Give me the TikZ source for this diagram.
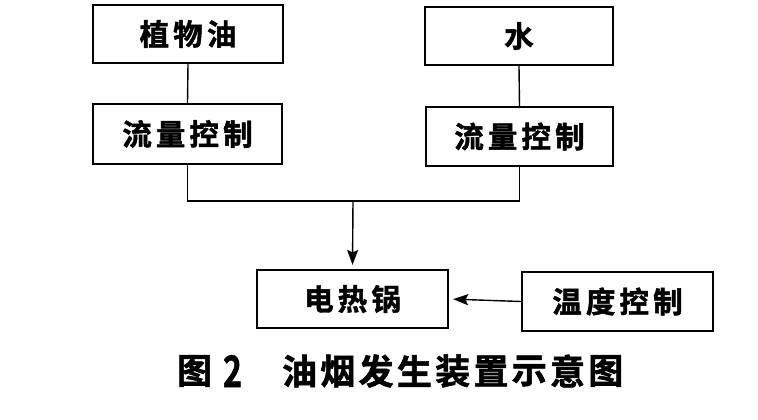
\documentclass[tikz,border=0pt]{standalone}
\usepackage{fontspec}
\usepackage{graphicx}
\usetikzlibrary{arrows.meta}
\newfontfamily\cjk{Noto Sans CJK SC}[BoldFont={Noto Sans CJK SC Bold},BoldFeatures={FakeBold=1.5}]
\newfontfamily\cjkls{Noto Sans CJK SC}[BoldFont={Noto Sans CJK SC Bold},BoldFeatures={FakeBold=1.5},LetterSpace=14]
\begin{document}
\begin{tikzpicture}[x=1pt,y=-1pt,
  box/.style={draw, line width=2.2pt, inner sep=0pt, font=\cjkls\bfseries\fontsize{29.5pt}{31pt}\selectfont},
  conn/.style={line width=1.4pt},
  arr/.style={conn, -{Stealth[length=15pt,width=11pt,inset=2.5pt]}, shorten >=4pt},
  captxt/.style={inner sep=0pt, font=\cjk\bfseries\fontsize{35pt}{36pt}\selectfont}]
\fill[white] (0,0) rectangle (758,420);
\useasboundingbox (0,0) rectangle (758,420);
\node[box, minimum width=190pt, minimum height=58pt] (oil) at (188,34) {植物油};
\node[box, minimum width=189pt, minimum height=60pt] (flow1) at (187.5,134) {流量控制};
\node[box, minimum width=188pt, minimum height=58pt] (water) at (519,36) {水};
\node[box, minimum width=187pt, minimum height=59pt] (flow2) at (519.5,136.5) {流量控制};
\node[box, minimum width=191pt, minimum height=58pt] (pot) at (352.5,299) {电热锅};
\node[box, minimum width=191pt, minimum height=59pt] (temp) at (617.5,301.5) {温度控制};
\coordinate (j) at (353,201);
\draw[conn] (oil.south) -- (flow1.north);
\draw[conn] (water.south) -- (flow2.north);
\draw[conn] (flow1.south) |- (j) -| (flow2.south);
\draw[arr] (j) -- (pot.north);
\draw[arr] (temp.west) -- (pot.east);
\node[captxt] (fig) at (194.5,371) {图};
\node[inner sep=0pt, font=\cjk\bfseries\fontsize{30pt}{32pt}\selectfont] (num) at (232.5,371) {\resizebox{19pt}{32pt}{2}};
\foreach \c [count=\i] in {油,烟,发,生,装,置,示,意,图}
  \node[captxt] (cap\i) at ({283+16.5+(\i-1)*38.3},371) {\c};
\end{tikzpicture}
\end{document}
